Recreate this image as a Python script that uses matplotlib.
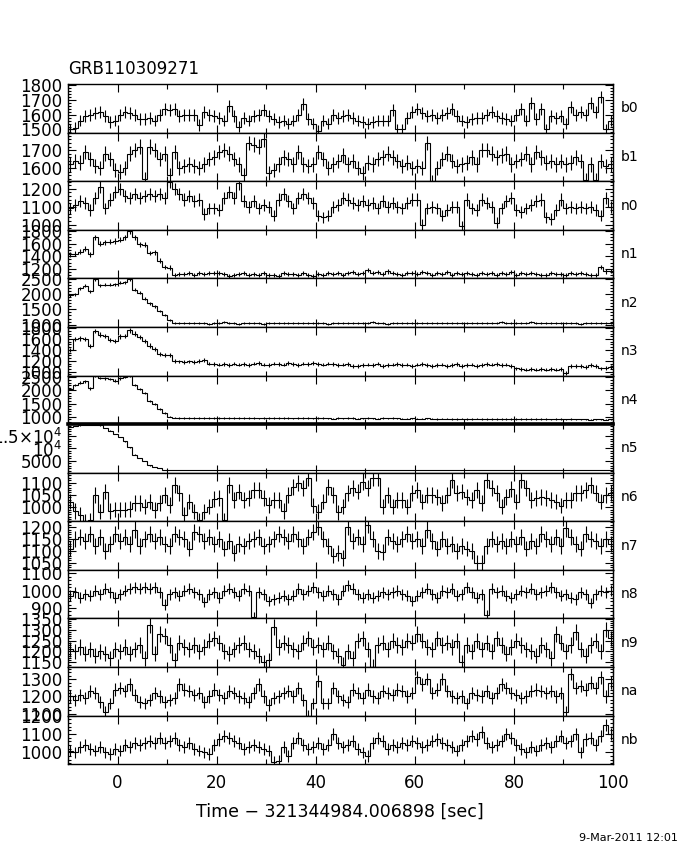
import numpy as np
import matplotlib
matplotlib.use('Agg')
import matplotlib.pyplot as plt
from matplotlib.ticker import FixedLocator, MultipleLocator

# 1 s bins from -10 to 100 s
edges = np.arange(-10, 101)
centers = edges[:-1] + 0.5

detectors = ['b0', 'b1', 'n0', 'n1', 'n2', 'n3', 'n4', 'n5',
             'n6', 'n7', 'n8', 'n9', 'na', 'nb']

b0 = [1500, 1510, 1560, 1590, 1600, 1610, 1620, 1590, 1550, 1560,
      1600, 1620, 1610, 1600, 1570, 1570, 1580, 1560, 1600, 1640,
      1630, 1640, 1590, 1600, 1600, 1600, 1530, 1620, 1600, 1590,
      1580, 1560, 1660, 1590, 1520, 1580, 1560, 1590, 1600, 1630,
      1590, 1570, 1550, 1560, 1540, 1560, 1600, 1670, 1570, 1540,
      1490, 1560, 1540, 1600, 1580, 1590, 1600, 1580, 1560, 1550,
      1540, 1550, 1560, 1560, 1560, 1630, 1500, 1500, 1580, 1620,
      1640, 1610, 1590, 1600, 1580, 1600, 1610, 1640, 1590, 1560,
      1550, 1570, 1580, 1580, 1600, 1620, 1590, 1580, 1570, 1560,
      1600, 1640, 1560, 1680, 1570, 1640, 1500, 1590, 1580, 1590,
      1540, 1650, 1600, 1620, 1600, 1680, 1620, 1720, 1500, 1560]
b1 = [1620, 1640, 1630, 1690, 1650, 1610, 1600, 1680, 1650, 1590,
      1580, 1600, 1680, 1700, 1720, 1540, 1720, 1700, 1650, 1680,
      1560, 1690, 1600, 1610, 1620, 1610, 1600, 1620, 1650, 1660,
      1690, 1700, 1680, 1650, 1620, 1560, 1740, 1730, 1720, 1760,
      1570, 1590, 1620, 1660, 1650, 1620, 1690, 1620, 1610, 1620,
      1690, 1650, 1600, 1620, 1640, 1670, 1620, 1640, 1600, 1570,
      1630, 1620, 1650, 1660, 1680, 1660, 1640, 1610, 1630, 1600,
      1610, 1600, 1740, 1520, 1600, 1650, 1680, 1640, 1610, 1620,
      1630, 1660, 1620, 1700, 1700, 1680, 1660, 1670, 1680, 1620,
      1640, 1650, 1680, 1620, 1690, 1660, 1630, 1640, 1620, 1640,
      1620, 1630, 1660, 1640, 1530, 1620, 1530, 1640, 1610, 1620]
n0 = [1090, 1110, 1130, 1120, 1080, 1150, 1210, 1090, 1140, 1180,
      1200, 1160, 1150, 1170, 1150, 1160, 1170, 1160, 1170, 1150,
      1240, 1200, 1170, 1140, 1160, 1130, 1140, 1060, 1090, 1090,
      1080, 1150, 1180, 1150, 1230, 1130, 1100, 1130, 1090, 1110,
      1100, 1050, 1140, 1170, 1130, 1090, 1150, 1170, 1150, 1120,
      1050, 1040, 1050, 1100, 1110, 1150, 1140, 1120, 1110, 1130,
      1110, 1120, 1090, 1130, 1100, 1120, 1100, 1090, 1120, 1140,
      1140, 1000, 1090, 1100, 1090, 1050, 1080, 1100, 1100, 990,
      1140, 1090, 1080, 1140, 1120, 1100, 1010, 1090, 1130, 1150,
      1080, 1070, 1090, 1110, 1130, 1140, 1040, 1030, 1080, 1140,
      1090, 1100, 1090, 1100, 1090, 1100, 1080, 1050, 1150, 1100]
n1 = [1430, 1440, 1470, 1520, 1430, 1700, 1600, 1620, 1630, 1640,
      1660, 1700, 1790, 1700, 1590, 1580, 1450, 1460, 1330, 1230,
      1220, 1110, 1120, 1120, 1130, 1110, 1130, 1120, 1140, 1130,
      1130, 1120, 1090, 1100, 1120, 1130, 1110, 1120, 1110, 1130,
      1110, 1100, 1090, 1130, 1120, 1120, 1110, 1130, 1100, 1090,
      1120, 1100, 1130, 1120, 1140, 1110, 1130, 1150, 1120, 1140,
      1180, 1130, 1150, 1120, 1160, 1130, 1120, 1110, 1130, 1140,
      1120, 1150, 1130, 1110, 1130, 1120, 1150, 1110, 1130, 1120,
      1140, 1120, 1110, 1130, 1120, 1140, 1110, 1130, 1120, 1150,
      1100, 1130, 1120, 1140, 1120, 1110, 1100, 1130, 1120, 1120,
      1110, 1130, 1120, 1140, 1120, 1110, 1100, 1230, 1160, 1170]
n2 = [1960, 2000, 2200, 2280, 2100, 2500, 2300, 2310, 2320, 2330,
      2380, 2400, 2500, 2150, 2050, 1850, 1700, 1600, 1450, 1320,
      1150, 1060, 1040, 1050, 1040, 1060, 1050, 1040, 1030, 1050,
      1060, 1080, 1050, 1040, 1030, 1040, 1050, 1050, 1040, 1030,
      1050, 1050, 1040, 1050, 1040, 1050, 1060, 1050, 1040, 1050,
      1050, 1040, 1030, 1050, 1060, 1050, 1040, 1050, 1040, 1050,
      1060, 1080, 1050, 1040, 1030, 1050, 1040, 1050, 1060, 1050,
      1040, 1050, 1060, 1050, 1040, 1050, 1060, 1050, 1060, 1050,
      1040, 1050, 1040, 1060, 1050, 1050, 1060, 1070, 1050, 1040,
      1050, 1040, 1050, 1080, 1050, 1040, 1050, 1050, 1040, 1050,
      1060, 1050, 1040, 1030, 1040, 1050, 1050, 1040, 1040, 1050]
n3 = [1400, 1600, 1610, 1600, 1470, 1750, 1680, 1660, 1580, 1560,
      1650, 1660, 1760, 1700, 1640, 1560, 1480, 1420, 1330, 1300,
      1300, 1200, 1190, 1180, 1190, 1180, 1200, 1220, 1150, 1140,
      1130, 1140, 1120, 1150, 1130, 1140, 1120, 1150, 1160, 1130,
      1120, 1150, 1140, 1130, 1160, 1140, 1120, 1150, 1140, 1160,
      1140, 1130, 1150, 1140, 1120, 1130, 1140, 1100, 1110, 1120,
      1130, 1120, 1150, 1110, 1120, 1130, 1140, 1120, 1130, 1110,
      1130, 1140, 1120, 1110, 1120, 1130, 1110, 1120, 1140, 1110,
      1120, 1130, 1110, 1120, 1140, 1130, 1140, 1120, 1130, 1110,
      1060, 1050, 1040, 1050, 1040, 1050, 1040, 1050, 1040, 1050,
      980, 1100, 1100, 1110, 1090, 1120, 1100, 1060, 1070, 1090]
n4 = [2050, 2200, 2300, 2350, 2080, 2560, 2480, 2460, 2440, 2380,
      2460, 2520, 2560, 2200, 2050, 1900, 1600, 1500, 1300, 1150,
      1000, 960, 950, 940, 950, 940, 945, 950, 940, 935,
      945, 940, 950, 945, 935, 940, 950, 940, 930, 945,
      940, 935, 945, 950, 940, 930, 935, 945, 940, 930,
      935, 940, 930, 925, 935, 930, 940, 935, 925, 930,
      935, 930, 925, 935, 930, 940, 930, 920, 925, 930,
      920, 925, 930, 920, 915, 925, 920, 915, 910, 920,
      915, 910, 920, 910, 905, 915, 910, 905, 915, 910,
      900, 910, 905, 900, 910, 905, 900, 895, 905, 900,
      895, 900, 890, 895, 890, 885, 895, 890, 880, 890]
n5 = [18600, 19000, 19300, 19500, 19600, 19600, 19300, 18300, 17200, 15800,
      14600, 12900, 10500, 7500, 6200, 5000, 3200, 2500, 2000, 1500,
      1350, 1300, 1260, 1250, 1240, 1250, 1260, 1240, 1250, 1230,
      1250, 1240, 1260, 1250, 1240, 1230, 1250, 1240, 1250, 1240,
      1230, 1250, 1240, 1230, 1240, 1250, 1230, 1240, 1220, 1240,
      1230, 1240, 1220, 1230, 1240, 1230, 1220, 1230, 1240, 1220,
      1230, 1220, 1240, 1230, 1220, 1230, 1210, 1220, 1230, 1220,
      1210, 1220, 1230, 1210, 1220, 1210, 1220, 1200, 1210, 1220,
      1210, 1200, 1220, 1210, 1200, 1210, 1190, 1200, 1210, 1200,
      1190, 1200, 1210, 1190, 1200, 1190, 1200, 1180, 1190, 1200,
      1190, 1180, 1200, 1190, 1180, 1190, 1180, 1190, 1180, 1190]
n6 = [1023, 984, 968, 943, 947, 1050, 981, 1064, 984, 990,
      990, 990, 993, 1018, 1018, 1002, 1023, 988, 1016, 1050,
      1009, 1091, 1057, 968, 1023, 981, 947, 981, 1002, 1034,
      1036, 947, 1091, 1029, 1064, 1029, 1036, 1070, 1070, 1036,
      1009, 1029, 1029, 984, 1050, 1084, 1098, 1080, 1118, 1006,
      981, 1023, 1084, 1050, 979, 1002, 1057, 1077, 1064, 1105,
      1077, 1118, 1118, 1002, 1050, 1002, 1029, 1029, 1002, 1057,
      1070, 1023, 1050, 1050, 1043, 1016, 1050, 1112, 1057, 1064,
      1043, 1029, 1070, 1016, 1112, 1077, 1057, 1002, 1043, 1075,
      1023, 1112, 1077, 1029, 1036, 1043, 1036, 1029, 1023, 1006,
      1029, 1029, 1057, 1057, 1070, 1091, 1057, 1023, 1050, 1057]
n7 = [1110, 1150, 1160, 1140, 1170, 1120, 1160, 1100, 1130, 1170,
      1140, 1160, 1130, 1190, 1120, 1150, 1170, 1140, 1160, 1130,
      1120, 1170, 1160, 1150, 1110, 1180, 1170, 1140, 1160, 1130,
      1150, 1110, 1140, 1090, 1130, 1120, 1140, 1150, 1160, 1120,
      1130, 1150, 1170, 1160, 1140, 1170, 1150, 1120, 1160, 1180,
      1200, 1150, 1120, 1080, 1090, 1070, 1200, 1140, 1160, 1130,
      1210, 1150, 1100, 1095, 1160, 1140, 1130, 1150, 1170, 1140,
      1150, 1120, 1190, 1140, 1110, 1150, 1120, 1130, 1100, 1120,
      1110, 1100, 1050, 1050, 1120, 1150, 1130, 1140, 1120, 1150,
      1130, 1160, 1110, 1140, 1120, 1170, 1150, 1130, 1160, 1120,
      1195, 1160, 1130, 1110, 1170, 1150, 1140, 1120, 1150, 1130]
n8 = [970, 990, 960, 980, 970, 1000, 980, 1010, 990, 960,
      980, 1000, 1010, 1020, 1010, 1020, 1010, 1020, 990, 920,
      980, 990, 970, 1000, 1010, 990, 980, 935, 980, 990,
      960, 1000, 1010, 990, 970, 1010, 1000, 850, 990, 980,
      940, 950, 960, 970, 950, 970, 1010, 980, 1000, 1020,
      990, 970, 1000, 980, 950, 1000, 1030, 1010, 980, 960,
      980, 960, 970, 990, 980, 990, 1000, 980, 970, 940,
      970, 990, 1010, 980, 960, 1000, 990, 1010, 970, 980,
      1020, 990, 960, 980, 860, 1010, 990, 1000, 970, 960,
      980, 1000, 990, 1010, 980, 990, 1000, 1020, 990, 970,
      980, 960, 950, 990, 980, 930, 980, 1000, 990, 1000]
n9 = [1210, 1200, 1220, 1190, 1210, 1180, 1200, 1190, 1170, 1210,
      1200, 1220, 1190, 1210, 1230, 1170, 1320, 1190, 1280, 1270,
      1230, 1160, 1240, 1220, 1210, 1230, 1200, 1220, 1250, 1260,
      1240, 1200, 1190, 1210, 1230, 1240, 1210, 1200, 1180, 1150,
      1160, 1310, 1220, 1240, 1230, 1210, 1200, 1240, 1260, 1220,
      1230, 1210, 1240, 1200, 1180, 1140, 1200, 1170, 1250, 1260,
      1210, 1130, 1230, 1240, 1210, 1250, 1230, 1220, 1250, 1240,
      1280, 1250, 1220, 1210, 1260, 1230, 1240, 1220, 1250, 1150,
      1230, 1200, 1250, 1210, 1240, 1200, 1260, 1230, 1190, 1220,
      1250, 1230, 1210, 1200, 1180, 1230, 1210, 1170, 1280, 1240,
      1200, 1230, 1290, 1210, 1180, 1230, 1250, 1200, 1300, 1260]
na = [1200, 1180, 1210, 1190, 1230, 1220, 1170, 1110, 1160, 1240,
      1250, 1230, 1270, 1210, 1170, 1160, 1180, 1220, 1200, 1170,
      1180, 1190, 1270, 1240, 1230, 1210, 1220, 1170, 1200, 1240,
      1210, 1190, 1230, 1220, 1200, 1190, 1170, 1220, 1270, 1200,
      1150, 1190, 1200, 1220, 1230, 1200, 1250, 1180, 1090, 1160,
      1290, 1160, 1160, 1250, 1200, 1180, 1170, 1240, 1220, 1190,
      1240, 1200, 1190, 1230, 1220, 1210, 1240, 1230, 1200, 1220,
      1310, 1270, 1300, 1220, 1240, 1300, 1230, 1200, 1190, 1200,
      1160, 1220, 1210, 1200, 1230, 1190, 1220, 1270, 1250, 1220,
      1210, 1190, 1200, 1230, 1240, 1230, 1220, 1230, 1200, 1220,
      1110, 1330, 1250, 1260, 1240, 1280, 1250, 1310, 1200, 1280]
nb = [1010, 1000, 1030, 1040, 1020, 1010, 1030, 1000, 990, 1020,
      1010, 1040, 1030, 1050, 1040, 1050, 1060, 1050, 1080, 1050,
      1060, 1080, 1040, 1030, 1050, 1020, 1010, 1000, 990, 1040,
      1070, 1090, 1080, 1060, 1050, 1020, 1030, 1040, 1030, 1020,
      1010, 950, 955, 1030, 980, 1050, 1080, 1040, 1020, 1030,
      1050, 1020, 1040, 1100, 1050, 1030, 1040, 1060, 1020, 1000,
      980, 1050, 1080, 1060, 1020, 1040, 1030, 1050, 1040, 1060,
      1050, 1030, 1040, 1060, 1070, 1050, 1040, 1030, 1010, 1040,
      1060, 1090, 1070, 1110, 1050, 1030, 1040, 1060, 1100, 1080,
      1040, 1020, 1000, 1030, 1010, 1040, 1050, 1030, 1060, 1090,
      1050, 1060, 1100, 1000, 1070, 1080, 1040, 1090, 1150, 1100]

rates = [b0, b1, n0, n1, n2, n3, n4, n5, n6, n7, n8, n9, na, nb]

# y axis setup per panel: limits, labelled ticks, minor step
ylims = [(1478, 1806), (1525, 1798), (970, 1242), (1050, 1815), (920, 2520),
         (930, 1820), (710, 2570), (250, 19800), (942, 1141), (1020, 1225),
         (840, 1120), (1129, 1351), (1090, 1370), (936, 1200)]
yticks = [[1500, 1600, 1700, 1800], [1600, 1700], [1000, 1100, 1200],
          [1200, 1400, 1600, 1800], [1000, 1500, 2000, 2500],
          [1000, 1200, 1400, 1600, 1800], [1000, 1500, 2000, 2500],
          [5000, 10000, 15000], [1000, 1050, 1100], [1050, 1100, 1150, 1200],
          [900, 1000, 1100], [1150, 1200, 1250, 1300, 1350],
          [1100, 1200, 1300], [1000, 1100, 1200]]
yminor = [20, 20, 20, 50, 100, 50, 100, 1000, 10, 10, 20, 10, 20, 20]

plt.rcParams['font.family'] = ['DejaVu Sans']

fig = plt.figure(figsize=(6.8, 8.5), dpi=100)
axes = fig.subplots(len(detectors), 1, sharex=True)
fig.subplots_adjust(left=0.1, right=0.9015, top=0.901, bottom=0.101, hspace=0)

for i, ax in enumerate(axes):
    vals = np.array(rates[i], dtype=float)
    ax.stairs(vals, edges, baseline=None, color='k', lw=0.8)
    ax.errorbar(centers, vals, yerr=np.sqrt(vals), fmt='none',
                ecolor='k', elinewidth=0.8, capsize=0)
    ax.set_xlim(-10, 100)
    ax.set_ylim(*ylims[i])
    ax.yaxis.set_major_locator(FixedLocator(yticks[i]))
    if detectors[i] == 'n5':
        ax.set_yticklabels(['5000', '$10^4$', '1.5×$10^4$'])
    else:
        ax.set_yticklabels([str(v) for v in yticks[i]])
    ax.yaxis.set_minor_locator(MultipleLocator(yminor[i]))
    ax.xaxis.set_major_locator(MultipleLocator(20))
    ax.xaxis.set_minor_locator(MultipleLocator(10))
    ax.tick_params(which='both', direction='in', top=True, right=True,
                   labelsize=12, width=0.8, pad=4)
    ax.tick_params(which='major', length=5.5)
    ax.tick_params(which='minor', axis='y', length=2.5)
    ax.tick_params(which='minor', axis='x', length=3.5)
    for sp in ax.spines.values():
        sp.set_linewidth(1.0)
    ax.text(1.015, 0.5, detectors[i], transform=ax.transAxes,
            ha='left', va='center', fontsize=10)

# heavy border above n5 as in the original plot
axes[detectors.index('n5')].spines['top'].set_linewidth(2.6)
axes[-1].tick_params(axis='x', labelsize=12, pad=7)

fig.text(0.1, 1 - 69 / 850, 'GRB110309271', fontsize=12, va='center', ha='left')
fig.text(0.5, 1 - 812 / 850, 'Time \u2212 321344984.006898 [sec]',
         fontsize=12.5, ha='center', va='center')
fig.text(0.997, 1 - 838 / 850, '9-Mar-2011 12:01', fontsize=8,
         ha='right', va='center')

fig.savefig('out.png', dpi=100)
